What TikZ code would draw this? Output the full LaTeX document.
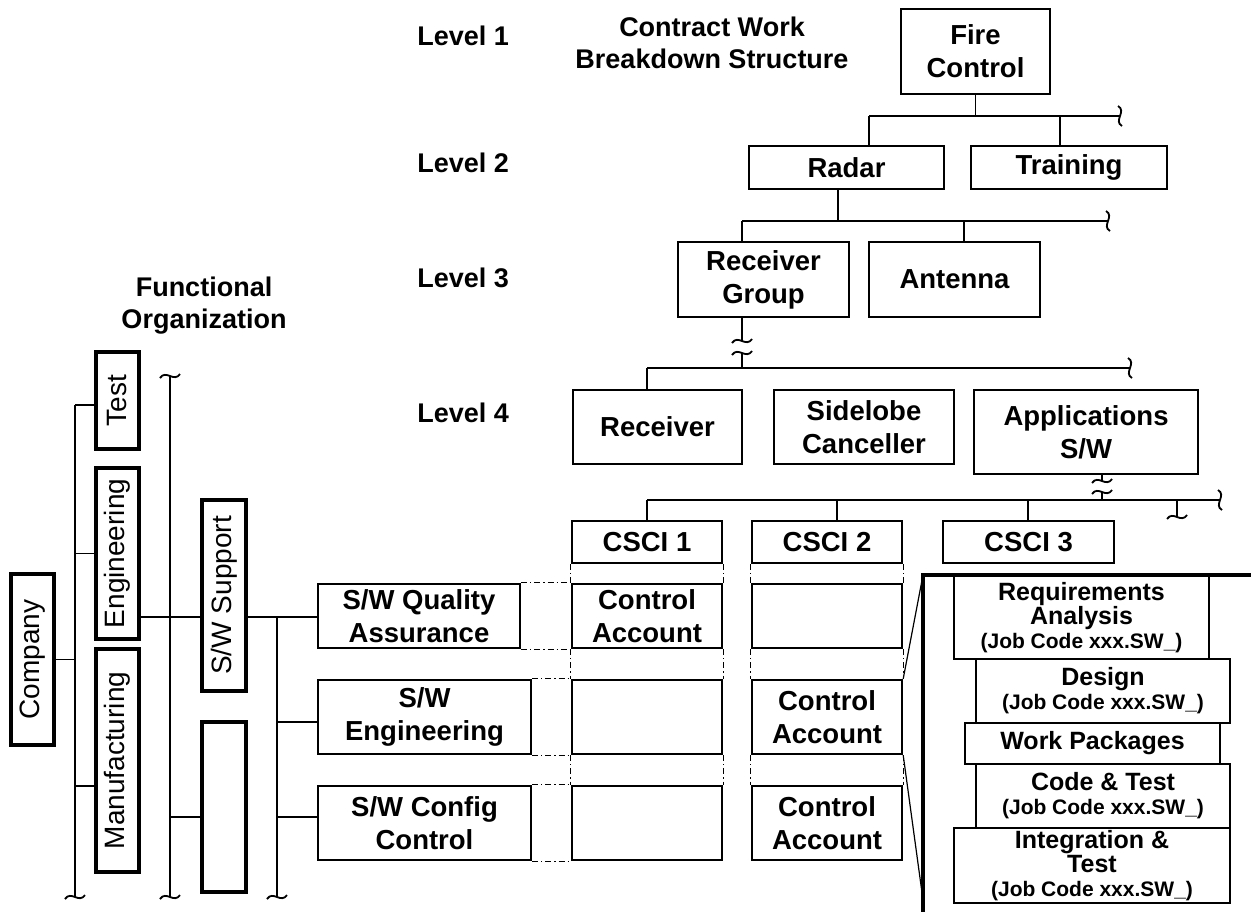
\documentclass[tikz,border=0pt]{standalone}
\usepackage{fontspec}
\setmainfont{Liberation Sans}
\newcommand\jobfnt{\fontsize{10.5}{12}\selectfont}
% \bx{style}{name}{x1}{y1}{x2}{y2}{text}
\newcommand\bx[7]{\node[#1, minimum width={(#5-#3)*0.5pt}, minimum height={(#6-#4)*0.5pt}] (#2) at ({(#3+#5)/2},{(#4+#6)/2}) {#7};}
\begin{document}
\begin{tikzpicture}[x=0.5pt,y=-0.5pt,
 conn/.style={line width=0.9pt},
 box/.style={draw, line width=1.2pt, inner sep=0pt, align=center, font=\bfseries\fontsize{13.75}{16.5}\selectfont},
 lbox/.style={draw, line width=1.7pt, inner sep=0pt, font=\fontsize{14}{16}\selectfont},
 wpbox/.style={draw, line width=0.6pt, inner sep=0pt, align=center, font=\bfseries\fontsize{12.5}{12}\selectfont},
 lbl/.style={font=\bfseries\fontsize{13.5}{16}\selectfont, align=center, inner sep=0pt},
 ddot/.style={line width=0.6pt, dash pattern=on 3pt off 1.5pt on 0.6pt off 1.5pt},
 framel/.style={line width=1.8pt},
 thinl/.style={line width=0.6pt},
 vsq/.pic={\draw[line width=0.9pt] (-2,-10) .. controls (7,-5) and (-7,5) .. (2,10);},
 hsq/.pic={\draw[line width=0.9pt] (-10,2) .. controls (-4,-7) and (4,7) .. (10,-2);},
]
\useasboundingbox (0,0) rectangle (1251,911);
\fill[white] (0,0) rectangle (1251,911);
\clip (0,0) rectangle (1251,911);

% ---------- labels
\node[lbl, anchor=west] (l1) at (417,36) {Level 1};
\node[lbl, anchor=west] (l2) at (417,163) {Level 2};
\node[lbl, anchor=west] (l3) at (417,278) {Level 3};
\node[lbl, anchor=west] (l4) at (417,413) {Level 4};
\node[lbl] (cwbs) at (712,43) {Contract Work\\Breakdown Structure};
\node[lbl] (func) at (204,306) {Functional\\Organization};

% ---------- WBS boxes
\bx{box}{fire}{901}{9}{1050}{94}{Fire\\Control}
\bx{box}{radar}{749}{146}{944}{189}{Radar}
\bx{box}{training}{971}{146}{1167}{189}{Training}
\bx{box}{rgroup}{678}{242}{849}{317}{Receiver\\Group}
\bx{box}{antenna}{869}{242}{1040}{317}{Antenna}
\bx{box}{receiver}{573}{390}{742}{464}{Receiver}
\bx{box}{sidelobe}{774}{390}{954}{464}{Sidelobe\\Canceller}
\bx{box}{apps}{974}{390}{1198}{474}{Applications\\S/W}
\bx{box}{csci1}{572}{521}{722}{563}{CSCI 1}
\bx{box}{csci2}{752}{521}{902}{563}{CSCI 2}
\bx{box}{csci3}{943}{521}{1114}{563}{CSCI 3}

% ---------- functional boxes
\bx{box}{qa}{318}{584}{520}{648}{S/W Quality\\Assurance}
\bx{box}{sweng}{318}{680}{531}{754}{S/W\\Engineering}
\bx{box}{swcc}{318}{786}{531}{860}{S/W Config\\Control}

% ---------- control account grid
\bx{box}{c11}{572}{584}{722}{648}{Control\\Account}
\bx{box}{c12}{572}{680}{722}{754}{}
\bx{box}{c13}{572}{786}{722}{860}{}
\bx{box}{c21}{752}{584}{902}{648}{}
\bx{box}{c22}{752}{680}{902}{754}{Control\\Account}
\bx{box}{c23}{752}{786}{902}{860}{Control\\Account}

% ---------- left organisation boxes
\bx{lbox}{company}{11}{574}{54}{745}{\rotatebox{90}{Company}}
\bx{lbox}{test}{96}{352}{139}{449}{\rotatebox{90}{Test}}
\bx{lbox}{eng}{96}{468}{139}{639}{\rotatebox{90}{Engineering}}
\bx{lbox}{manu}{96}{649}{139}{872}{\rotatebox{90}{Manufacturing}}
\bx{lbox}{swsup}{202}{500}{246}{691}{\rotatebox{90}{S/W Support}}
\bx{lbox}{empty}{202}{722}{246}{892}{}

% ---------- WBS connectors
\coordinate (b1l) at (869,116); \coordinate (b1r) at (1120,116); \coordinate (b1t) at (1060,116);
\draw[conn] (fire.south) -- (fire.south |- b1l);
\draw[conn] (b1l) -- (b1r); \pic at (b1r) {vsq};
\draw[conn] (b1l) -- (b1l |- radar.north);
\draw[conn] (b1t) -- (b1t |- training.north);

\coordinate (b2l) at (742,221); \coordinate (b2r) at (1108,221);
\coordinate (b2m) at (838,221); \coordinate (b2a) at (964,221);
\draw[conn] (b2m |- radar.south) -- (b2m);
\draw[conn] (b2l) -- (b2r); \pic at (b2r) {vsq};
\draw[conn] (b2l) -- (b2l |- rgroup.north);
\draw[conn] (b2a) -- (b2a |- antenna.north);

\coordinate (br1a) at (742,341); \coordinate (br1b) at (742,353);
\coordinate (b3l) at (647,368); \coordinate (b3r) at (1130,368); \coordinate (b3m) at (742,368);
\draw[conn] (br1a |- rgroup.south) -- (br1a); \pic at (br1a) {hsq}; \pic at (br1b) {hsq};
\draw[conn] (br1b) -- (b3m);
\draw[conn] (b3l) -- (b3r); \pic at (b3r) {vsq};
\draw[conn] (b3l) -- (b3l |- receiver.north);

\coordinate (br2a) at (1102,481); \coordinate (br2b) at (1102,492);
\coordinate (b4l) at (647,500); \coordinate (b4r) at (1220,500); \coordinate (b4m) at (1102,500);
\coordinate (b4c2) at (837,500); \coordinate (b4c3) at (1028,500);
\coordinate (b4s) at (1177,500); \coordinate (b4se) at (1177,517);
\draw[conn] (br2a |- apps.south) -- (br2a); \pic at (br2a) {hsq}; \pic at (br2b) {hsq};
\draw[conn] (br2b) -- (b4m);
\draw[conn] (b4l) -- (b4r); \pic at (b4r) {vsq};
\draw[conn] (b4l) -- (b4l |- csci1.north);
\draw[conn] (b4c2) -- (b4c2 |- csci2.north);
\draw[conn] (b4c3) -- (b4c3 |- csci3.north);
\draw[conn] (b4s) -- (b4se); \pic at (b4se) {hsq};

% ---------- organisation connectors
\coordinate (bAt) at (75,405); \coordinate (bAb) at (75,897);
\coordinate (bBt) at (170,376); \coordinate (bBb) at (170,897);
\coordinate (bCt) at (277,617); \coordinate (bCb) at (277,897);
\coordinate (ym) at (0,786); \coordinate (ye) at (0,617);
\coordinate (yx) at (0,817); \coordinate (yw) at (0,722);
\draw[conn] (bAt) -- (bAb); \pic at (bAb) {hsq};
\draw[conn] (bBt) -- (bBb); \pic at (bBt) {hsq}; \pic at (bBb) {hsq};
\draw[conn] (bCt) -- (bCb); \pic at (bCb) {hsq};
\draw[conn] (company.east) -- (company.east -| bAt);
\draw[conn] (bAt) -- (bAt -| test.west);
\draw[conn] (eng.west -| bAt) -- (eng.west);
\draw[conn] (ym -| bAt) -- (ym -| manu.west);
\draw[conn] (ye -| eng.east) -- (ye -| swsup.west);
\draw[conn] (yx -| bBt) -- (yx -| empty.west);
\draw[conn] (ye -| swsup.east) -- (ye -| qa.west);
\draw[conn] (yw -| bCt) -- (yw -| sweng.west);
\draw[conn] (yx -| bCt) -- (yx -| swcc.west);

% ---------- dash-dot alignment lines
\draw[ddot] (qa.north east) -- (c11.north west);
\draw[ddot] (qa.south east) -- (c11.south west);
\draw[ddot] (sweng.north east) -- (c12.north west);
\draw[ddot] (sweng.south east) -- (c12.south west);
\draw[ddot] (swcc.north east) -- (c13.north west);
\draw[ddot] (swcc.south east) -- (c13.south west);
\draw[ddot] (csci1.south west) -- (c11.north west);
\draw[ddot] (csci1.south east) -- (c11.north east);
\draw[ddot] (c11.south west) -- (c12.north west);
\draw[ddot] (c11.south east) -- (c12.north east);
\draw[ddot] (c12.south west) -- (c13.north west);
\draw[ddot] (c12.south east) -- (c13.north east);
\draw[ddot] (csci2.south west) -- (c21.north west);
\draw[ddot] (csci2.south east) -- (c21.north east);
\draw[ddot] (c21.south west) -- (c22.north west);
\draw[ddot] (c21.south east) -- (c22.north east);
\draw[ddot] (c22.south west) -- (c23.north west);
\draw[ddot] (c22.south east) -- (c23.north east);

% ---------- work packages callout
\bx{wpbox}{req}{954}{576}{1209}{659}{Requirements\\Analysis\\{\jobfnt (Job Code xxx.SW\_)}}
\bx{wpbox}{design}{976}{659}{1230}{723}{Design\\{\jobfnt (Job Code xxx.SW\_)}}
\bx{wpbox}{wp}{965}{723}{1220}{764}{Work Packages}
\bx{wpbox}{code}{976}{764}{1230}{828}{Code \& Test\\{\jobfnt (Job Code xxx.SW\_)}}
\bx{wpbox}{integ}{954}{828}{1230}{903}{Integration \&\\Test\\{\jobfnt (Job Code xxx.SW\_)}}
\coordinate (ftl) at (923,575); \coordinate (fbl) at (923,915); \coordinate (ftr) at (1255,575);
\coordinate (fcb) at (923,900);
\draw[framel] (fbl) -- (ftl) -- (ftr);
\draw[thinl] (c22.north east) -- (ftl);
\draw[thinl] (c22.south east) -- (fcb);
\end{tikzpicture}
\end{document}
